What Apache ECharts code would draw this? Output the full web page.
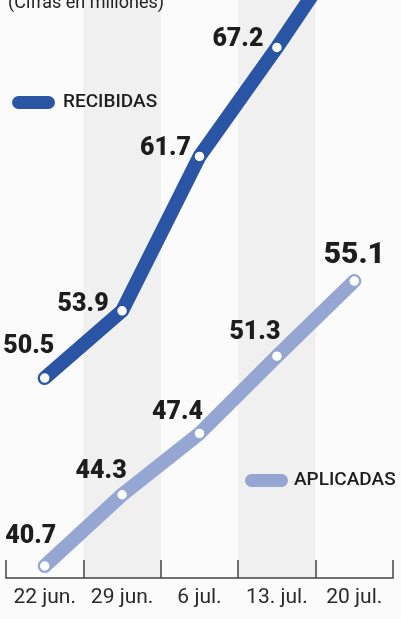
<!DOCTYPE html>
<html>
<head>
<meta charset="utf-8">
<script src="https://cdn.jsdelivr.net/npm/echarts@6/dist/echarts.min.js"></script>
<style>
html,body{margin:0;padding:0;background:#fafafa;}
#chart{width:401px;height:619px;}
</style>
</head>
<body>
<div id="chart"></div>
<script>
// ---- data ----
const categories = ['22 jun.', '29 jun.', '6 jul.', '13. jul.', '20 jul.'];
const recibidas = [50.5, 53.9, 61.7, 67.2, 73.0];
const aplicadas = [40.7, 44.3, 47.4, 51.3, 55.1];
const seriesNames = ['RECIBIDAS', 'APLICADAS'];
const subtitle = '(Cifras en millones)';

// ---- styling ----
const darkBlue = '#2a55a4';
const lightBlue = '#95a6d3';
const labelColor = '#1d1d1d';
const recOffsets = [[-16, -31], [-39, -6], [-34, -8], [-39, -8], null];
const aplOffsets = [[-14, -29], [-21, -23], [-22, -21], [-22, -23], [0, -26]];
const aplSizes = [25, 25, 25, 25, 30];

function buildData(values, offsets, sizes) {
  return values.map((v, i) => {
    const off = offsets[i];
    return {
      value: v,
      label: off ? {
        show: true,
        position: 'inside',
        offset: off,
        fontSize: sizes ? sizes[i] : 25
      } : { show: false }
    };
  });
}

const pill = 'path://M6.5,0 L36.5,0 A6.5,6.5 0 0 1 36.5,13 L6.5,13 A6.5,6.5 0 0 1 6.5,0 Z';

const chart = echarts.init(document.getElementById('chart'), null, { renderer: 'canvas' });

const commonLabel = {
  show: true,
  position: 'inside',
  fontFamily: 'Roboto',
  fontWeight: 900,
  fontSize: 25,
  color: labelColor,
  letterSpacing: -0.8
};

chart.setOption({
  backgroundColor: '#fbfbfb',
  animation: false,
  graphic: [{
    type: 'text',
    left: 8,
    top: -6,
    z: 100,
    style: {
      text: subtitle,
      font: '18px Roboto',
      fill: '#222'
    }
  }],
  legend: [{
    left: 7,
    top: 88,
    icon: pill,
    itemWidth: 43,
    itemHeight: 13,
    data: [{ name: seriesNames[0], itemStyle: { color: darkBlue, borderWidth: 0 } }],
    textStyle: { fontFamily: 'Roboto', fontWeight: 500, fontSize: 19, color: '#1d1d1d', padding: [0, 0, 0, 3] },
    selectedMode: false
  }, {
    left: 240,
    top: 466,
    icon: pill,
    itemWidth: 45,
    itemHeight: 13,
    data: [{ name: seriesNames[1], itemStyle: { color: lightBlue, borderWidth: 0 } }],
    textStyle: { fontFamily: 'Roboto', fontWeight: 500, fontSize: 19, color: '#1d1d1d', padding: [0, 0, 0, 0] },
    selectedMode: false
  }],
  grid: { left: 6, right: 8, top: 0, bottom: 41, containLabel: false },
  xAxis: {
    type: 'category',
    data: categories,
    boundaryGap: true,
    axisLine: { show: true, lineStyle: { color: '#444', width: 1.5 } },
    axisTick: { show: true, inside: true, length: 18, interval: 0, lineStyle: { color: '#444', width: 1.5 } },
    axisLabel: { interval: 0, hideOverlap: false, fontFamily: 'Roboto', fontSize: 21, color: '#2a2a2a', margin: 9, letterSpacing: -0.8 },
    splitLine: { show: false },
    splitArea: { show: true, interval: 0, areaStyle: { color: ['rgba(0,0,0,0)', '#f0f0f0'] } }
  },
  yAxis: [{
    type: 'value', min: 40.094, max: 69.30, show: false, splitLine: { show: false }
  }, {
    type: 'value', min: 40.40, max: 69.60, show: false, splitLine: { show: false }
  }],
  series: [{
    name: seriesNames[0],
    type: 'line',
    yAxisIndex: 1,
    data: buildData(recibidas, recOffsets, null),
    lineStyle: { color: darkBlue, width: 14, cap: 'round', join: 'round' },
    symbol: 'circle',
    symbolSize: 11,
    itemStyle: { color: '#fff', borderColor: darkBlue, borderWidth: 1.5 },
    label: commonLabel,
    z: 3
  }, {
    name: seriesNames[1],
    type: 'line',
    yAxisIndex: 0,
    data: buildData(aplicadas, aplOffsets, aplSizes),
    lineStyle: { color: lightBlue, width: 14, cap: 'round', join: 'round' },
    symbol: 'circle',
    symbolSize: 11,
    itemStyle: { color: '#fff', borderColor: lightBlue, borderWidth: 1.5 },
    label: commonLabel,
    z: 3
  }]
});
</script>
</body>
</html>
